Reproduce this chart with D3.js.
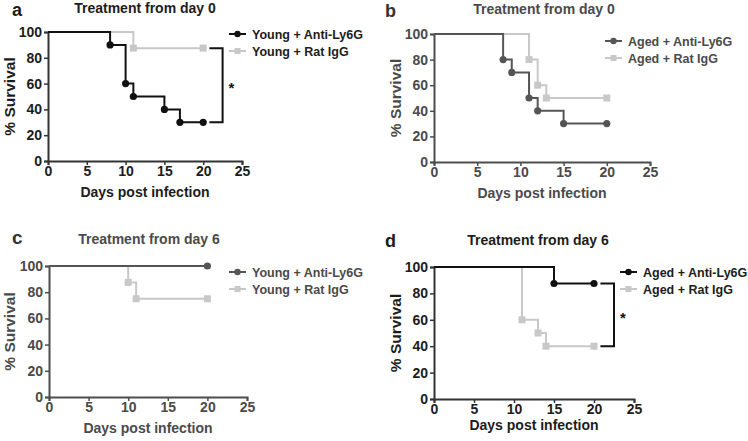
<!DOCTYPE html>
<html><head><meta charset="utf-8">
<script src="https://cdn.jsdelivr.net/npm/d3@7"></script>
<style>
body{margin:0;background:#fff}
svg{display:block;font-family:"Liberation Sans",Arial,Helvetica,sans-serif;font-weight:bold}
</style>
</head><body>
<svg id="chart" width="748" height="441"></svg>
<script>
// ---- data ----
const xTicks = [0, 5, 10, 15, 20, 25];
const yTicks = [0, 20, 40, 60, 80, 100];
const panelLetters = ["a", "b", "c", "d"];
const panelTitles = ["Treatment from day 0", "Treatment from day 0", "Treatment from day 6", "Treatment from day 6"];
const antiNames = ["Young + Anti-Ly6G", "Aged + Anti-Ly6G", "Young + Anti-Ly6G", "Aged + Anti-Ly6G"];
const iggNames = ["Young + Rat IgG", "Aged + Rat IgG", "Young + Rat IgG", "Aged + Rat IgG"];
const xLabel = "Days post infection";
const yLabel = "% Survival";

const aAntiDays = [0, 8, 10, 11, 15, 17, 20];
const aAntiSurv = [100, 90, 60, 50, 40, 30, 30];
const aIgGDays = [0, 11, 20];
const aIgGSurv = [100, 87.5, 87.5];

const bAntiDays = [0, 8, 9, 11, 12, 15, 20];
const bAntiSurv = [100, 80, 70, 50, 40, 30, 30];
const bIgGDays = [0, 11, 12, 13, 20];
const bIgGSurv = [100, 80, 60, 50, 50];

const cAntiDays = [0, 20];
const cAntiSurv = [100, 100];
const cIgGDays = [0, 10, 11, 20];
const cIgGSurv = [100, 87.5, 75, 75];

const dAntiDays = [0, 15, 20];
const dAntiSurv = [100, 87.5, 87.5];
const dIgGDays = [0, 11, 13, 14, 20];
const dIgGSurv = [100, 60, 50, 40, 40];

const significant = [true, false, false, true];

// ---- layout & style ----
const layout = [
  {x0: 48, x1: 242, yTop: 32, yBot: 161, text: "#1c1c1c", axis: "#333", anti: "#111", letterX: 12, letterY: 16, letterSize: 18, titleX: 145, titleY: 13, legX: 229, legY: 34, xlabY: 197, ylabX: 15},
  {x0: 434, x1: 650, yTop: 34, yBot: 162, text: "#4a4a4a", axis: "#4d4d4d", anti: "#555", letterX: 385, letterY: 17, letterSize: 18, titleX: 544, titleY: 14, legX: 605, legY: 41, xlabY: 198, ylabX: 401},
  {x0: 49, x1: 247, yTop: 266, yBot: 397, text: "#4a4a4a", axis: "#4d4d4d", anti: "#555", letterX: 12, letterY: 244, letterSize: 19, titleX: 149, titleY: 244, legX: 229, legY: 272, xlabY: 433, ylabX: 15},
  {x0: 434, x1: 634, yTop: 267, yBot: 399, text: "#1c1c1c", axis: "#333", anti: "#111", letterX: 385, letterY: 247, letterSize: 18, titleX: 538, titleY: 245, legX: 620, legY: 272, xlabY: 430, ylabX: 401}
];
const iggColor = "#c8c8c8";

const antiDays = [aAntiDays, bAntiDays, cAntiDays, dAntiDays];
const antiSurv = [aAntiSurv, bAntiSurv, cAntiSurv, dAntiSurv];
const iggDays = [aIgGDays, bIgGDays, cIgGDays, dIgGDays];
const iggSurv = [aIgGSurv, bIgGSurv, cIgGSurv, dIgGSurv];

const svg = d3.select("#chart");

layout.forEach((L, i) => {
  const g = svg.append("g");
  const x = d3.scaleLinear().domain([0, 25]).range([L.x0, L.x1]);
  const y = d3.scaleLinear().domain([0, 100]).range([L.yBot, L.yTop]);

  // axes
  const xa = g.append("g").attr("transform", `translate(0,${L.yBot})`)
    .call(d3.axisBottom(x).tickValues(xTicks).tickSize(4).tickSizeOuter(4).tickPadding(1));
  const ya = g.append("g").attr("transform", `translate(${L.x0},0)`)
    .call(d3.axisLeft(y).tickValues(yTicks).tickSize(4).tickSizeOuter(4).tickPadding(2));
  [xa, ya].forEach(a => {
    a.select(".domain").attr("stroke", L.axis).attr("stroke-width", 2);
    a.selectAll(".tick line").attr("stroke", L.axis).attr("stroke-width", 1.5);
    a.selectAll(".tick text").attr("fill", L.text).attr("font-size", 14)
      .attr("font-family", '"Liberation Sans",Arial,sans-serif').attr("font-weight", "bold");
  });

  const line = d3.line().x(d => x(d[0])).y(d => y(d[1])).curve(d3.curveStepAfter);
  const antiPts = antiDays[i].map((d, k) => [d, antiSurv[i][k]]);
  const iggPts = iggDays[i].map((d, k) => [d, iggSurv[i][k]]);

  // IgG series (light grey squares)
  g.append("path").attr("d", line(iggPts)).attr("fill", "none")
    .attr("stroke", iggColor).attr("stroke-width", 2);
  g.selectAll(".sq").data(iggPts.slice(1)).enter().append("rect")
    .attr("x", d => x(d[0]) - 3.5).attr("y", d => y(d[1]) - 3.5)
    .attr("width", 7).attr("height", 7).attr("fill", iggColor);

  // Anti-Ly6G series (circles)
  g.append("path").attr("d", line(antiPts)).attr("fill", "none")
    .attr("stroke", L.anti).attr("stroke-width", 2);
  g.selectAll(".ci").data(antiPts.slice(1)).enter().append("circle")
    .attr("cx", d => x(d[0])).attr("cy", d => y(d[1])).attr("r", 3.6).attr("fill", L.anti);

  // significance bracket
  if (significant[i]) {
    const yA = y(antiSurv[i][antiSurv[i].length - 1]);
    const yB = y(iggSurv[i][iggSurv[i].length - 1]);
    const xs = x(20.8), xe = x(22.5);
    g.append("path").attr("d", `M${xs},${yA}H${xe}V${yB}H${xs}`)
      .attr("fill", "none").attr("stroke", "#111").attr("stroke-width", 2);
    g.append("text").attr("x", xe + 6).attr("y", (yA + yB) / 2 + 8)
      .attr("font-size", 15).attr("fill", "#111").text("*");
  }

  // panel letter & title
  g.append("text").attr("x", L.letterX).attr("y", L.letterY).attr("font-size", L.letterSize)
    .attr("fill", L.text === "#1c1c1c" ? "#1c1c1c" : "#333").text(panelLetters[i]);
  g.append("text").attr("x", L.titleX).attr("y", L.titleY).attr("text-anchor", "middle")
    .attr("font-size", 14).attr("fill", L.text).text(panelTitles[i]);

  // axis labels
  g.append("text").attr("x", (L.x0 + L.x1) / 2).attr("y", L.xlabY).attr("text-anchor", "middle")
    .attr("font-size", 14).attr("fill", L.text).text(xLabel);
  g.append("text").attr("transform", `translate(${L.ylabX},${(L.yTop + L.yBot) / 2}) rotate(-90)`)
    .attr("text-anchor", "middle").attr("font-size", 15.5).attr("fill", L.text).text(yLabel);

  // legend
  const leg = [
    {name: antiNames[i], color: L.anti, shape: "circle"},
    {name: iggNames[i], color: iggColor, shape: "square"}
  ];
  leg.forEach((it, k) => {
    const ly = L.legY + k * 17;
    g.append("line").attr("x1", L.legX).attr("x2", L.legX + 17).attr("y1", ly).attr("y2", ly)
      .attr("stroke", it.color).attr("stroke-width", 2);
    if (it.shape === "circle") {
      g.append("circle").attr("cx", L.legX + 8.5).attr("cy", ly).attr("r", 3.2).attr("fill", it.color);
    } else {
      g.append("rect").attr("x", L.legX + 5.5).attr("y", ly - 3).attr("width", 6).attr("height", 6).attr("fill", it.color);
    }
    g.append("text").attr("x", L.legX + 23).attr("y", ly + 4.5).attr("font-size", 12.5)
      .attr("fill", L.text).text(it.name);
  });
});
</script>
</body></html>
